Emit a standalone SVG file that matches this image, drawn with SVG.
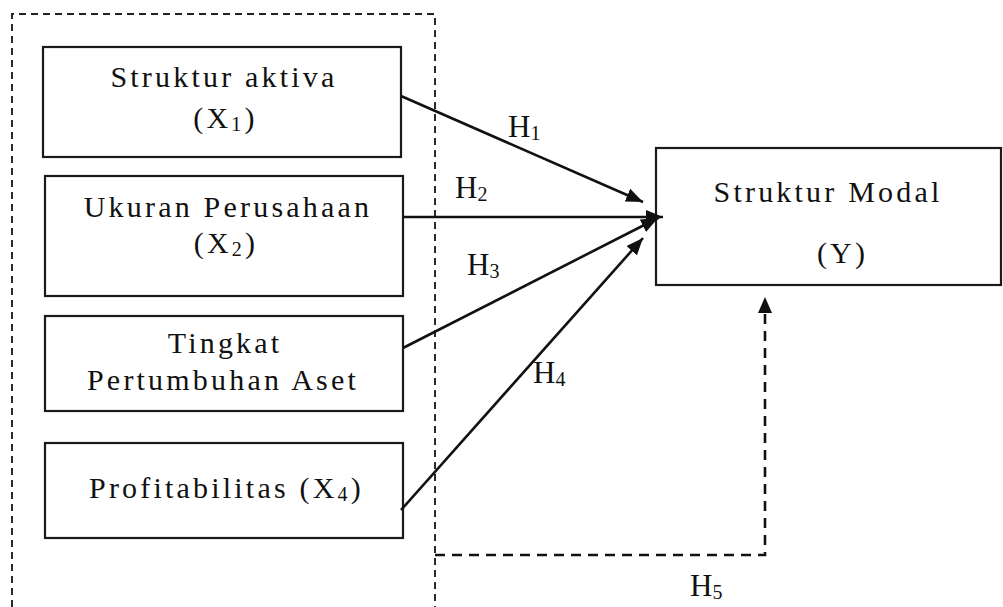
<svg xmlns="http://www.w3.org/2000/svg" width="1003" height="607" viewBox="0 0 1003 607">
  <style>
    .box { fill: #fff; stroke: #1a1a1a; stroke-width: 2.2; }
    .lbl { font-family: "Liberation Serif", "Times New Roman", serif; font-size: 30px; fill: #111; letter-spacing: 3.2px; text-anchor: middle; }
    .h { font-family: "Liberation Serif", "Times New Roman", serif; font-size: 31px; fill: #111; }
    .sub { font-size: 20px; }
    .arrow { stroke: #111; stroke-width: 2.6; fill: none; marker-end: url(#ah); }
    .frame { stroke: #222; stroke-width: 1.9; fill: none; stroke-dasharray: 7 5; }
    .dash5 { stroke: #111; stroke-width: 2.6; fill: none; stroke-dasharray: 10 7; }
  </style>
  <defs>
    <marker id="ah" markerUnits="userSpaceOnUse" markerWidth="18" markerHeight="14" refX="17" refY="7" orient="auto">
      <path d="M0,0 L17,7 L0,14 z" fill="#111"/>
    </marker>
  </defs>
  <rect width="1003" height="607" fill="#fff"/>

  <g id="frame">
    <path class="frame" d="M12,607 L12,14 L435,14 L435,607"/>
  </g>

  <g id="x1">
    <rect class="box" x="43" y="47" width="358" height="110"/>
    <text class="lbl" x="224" y="87">Struktur aktiva</text>
    <text class="lbl" x="225.5" y="128">(X<tspan class="sub" dy="3">1</tspan><tspan dy="-3">)</tspan></text>
  </g>

  <g id="x2">
    <rect class="box" x="45" y="176" width="358" height="120"/>
    <text class="lbl" x="228" y="217">Ukuran Perusahaan</text>
    <text class="lbl" x="226" y="253">(X<tspan class="sub" dy="3">2</tspan><tspan dy="-3">)</tspan></text>
  </g>

  <g id="x3">
    <rect class="box" x="45" y="316" width="358" height="95"/>
    <text class="lbl" x="225" y="353">Tingkat</text>
    <text class="lbl" x="223" y="390">Pertumbuhan Aset</text>
  </g>

  <g id="x4">
    <rect class="box" x="45" y="443" width="358" height="95"/>
    <text class="lbl" x="226.5" y="498">Profitabilitas (X<tspan class="sub" dy="3">4</tspan><tspan dy="-3">)</tspan></text>
  </g>

  <g id="y">
    <rect class="box" x="656" y="148" width="345" height="137"/>
    <text class="lbl" x="828" y="202">Struktur Modal</text>
    <text class="lbl" x="842.5" y="263">(Y)</text>
  </g>

  <g id="connectors">
    <line class="arrow" x1="401" y1="96" x2="643" y2="202"/>
    <line class="arrow" x1="403" y1="217" x2="663" y2="217"/>
    <line class="arrow" x1="403" y1="348" x2="658" y2="218"/>
    <line class="arrow" x1="401" y1="510" x2="643" y2="238"/>
    <path class="dash5" d="M435,555 L765,555 L765,313"/>
    <path d="M758,313 L765,297 L772,313 z" fill="#111"/>
  </g>

  <g id="labels">
    <text class="h" x="508" y="137">H<tspan class="sub" dy="3">1</tspan></text>
    <text class="h" x="455" y="198">H<tspan class="sub" dy="3">2</tspan></text>
    <text class="h" x="467" y="275">H<tspan class="sub" dy="3">3</tspan></text>
    <text class="h" x="533" y="383">H<tspan class="sub" dy="3">4</tspan></text>
    <text class="h" x="690" y="596">H<tspan class="sub" dy="3">5</tspan></text>
  </g>
</svg>
